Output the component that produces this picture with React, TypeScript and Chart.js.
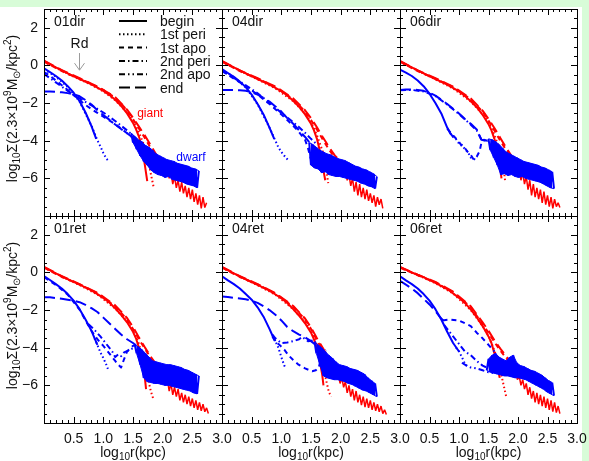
import React, { useEffect, useRef } from "react";
import { Chart, registerables } from "chart.js";
Chart.register(...registerables);

type P = [number, number];

// ---------- shared x grids ----------
const bandX = [1.47, 1.5, 1.53, 1.56, 1.59, 1.62, 1.65, 1.68, 1.71, 1.74, 1.77, 1.8, 1.83, 1.86, 1.89, 1.92, 1.95, 1.98, 2.01, 2.04, 2.07, 2.1, 2.13, 2.16, 2.19, 2.22, 2.25, 2.28, 2.31, 2.34, 2.37, 2.4, 2.43, 2.46, 2.49, 2.52, 2.55, 2.58, 2.61];
const tailX = [1.96, 1.99, 2.02, 2.05, 2.08, 2.11, 2.14, 2.17, 2.2, 2.23, 2.26, 2.29, 2.32, 2.35, 2.38, 2.41, 2.44, 2.47, 2.5, 2.53, 2.56, 2.59, 2.62, 2.65, 2.68, 2.71, 2.74, 2.77];

// ---------- tick labels ----------
const yTickValues = [2, 0, -2, -4, -6];
const xTickValues = [0.5, 1.0, 1.5, 2.0, 2.5, 3.0];
const legendLabels = ["begin", "1st peri", "1st apo", "2nd peri", "2nd apo", "end"];

// ---------- 01dir ----------
const dir01GBegin: P[] = [[0, 0.24], [0.2, -0.1], [0.4, -0.42], [0.6, -0.72], [0.8, -1.0], [1.0, -1.35], [1.1, -1.56], [1.2, -1.82], [1.3, -2.15], [1.4, -2.55], [1.5, -3.05], [1.55, -3.38], [1.6, -3.78], [1.65, -4.35], [1.7, -5.3], [1.74, -6.15]];
const dir01GPeri1: P[] = [[0, 0.22], [0.2, -0.12], [0.4, -0.44], [0.6, -0.74], [0.8, -1.03], [1.0, -1.38], [1.2, -1.85], [1.4, -2.5], [1.5, -2.95], [1.6, -3.55], [1.7, -4.35], [1.75, -4.95], [1.8, -5.75], [1.85, -6.5]];
const dir01GApo1: P[] = [[0, 0.2], [0.2, -0.13], [0.4, -0.45], [0.6, -0.7], [0.8, -0.98], [1.0, -1.3], [1.2, -1.72], [1.35, -2.2], [1.5, -2.85], [1.6, -3.35], [1.7, -3.85], [1.8, -4.4], [1.9, -4.95], [1.97, -5.2]];
const dir01GEnd: P[] = [[0, 0.26], [0.3, -0.25], [0.6, -0.68], [0.9, -1.12], [1.2, -1.68], [1.4, -2.35], [1.5, -2.78], [1.6, -3.25], [1.7, -3.72], [1.8, -4.25], [1.9, -4.78], [2.0, -5.2]];
const dir01Tail = [-5.1, -5.5, -5.3, -5.8, -5.5, -6.0, -5.7, -6.3, -5.9, -6.5, -6.1, -6.7, -6.2, -6.8, -6.4, -7.0, -6.5, -7.1, -6.6, -7.25, -6.8, -7.4, -6.9, -7.6, -7.0, -7.55, -7.3, null];
const dir01DBegin: P[] = [[0, -0.15], [0.1, -0.35], [0.2, -0.56], [0.3, -0.8], [0.4, -1.1], [0.5, -1.45], [0.6, -1.9], [0.7, -2.5], [0.8, -3.22], [0.88, -3.9]];
const dir01DPeri1: P[] = [[0, -0.2], [0.2, -0.6], [0.4, -1.14], [0.6, -1.92], [0.8, -3.2], [0.9, -3.98], [0.95, -4.3], [1.0, -4.65], [1.05, -4.95], [1.1, -5.1]];
const dir01DApo1: P[] = [[0, -0.35], [0.1, -0.55], [0.2, -0.8], [0.3, -1.05], [0.4, -1.3], [0.5, -1.58], [0.6, -1.85], [0.7, -2.1], [0.8, -2.32], [0.9, -2.52], [1.0, -2.72], [1.1, -2.92], [1.2, -3.12], [1.3, -3.36], [1.4, -3.6], [1.5, -3.85], [1.6, -4.1]];
const dir01DPeri2: P[] = [[0, -0.45], [0.2, -0.9], [0.4, -1.35], [0.5, -1.55], [0.6, -1.75], [0.8, -2.12], [1.0, -2.5], [1.2, -2.95], [1.4, -3.45], [1.6, -4.0]];
const dir01DApo2: P[] = [];
const dir01DEnd: P[] = [[0, -1.38], [0.1, -1.38], [0.2, -1.4], [0.3, -1.43], [0.4, -1.47], [0.5, -1.53], [0.6, -1.64], [0.7, -1.84], [0.8, -2.08], [0.9, -2.38], [1.0, -2.64], [1.1, -2.88], [1.2, -3.14], [1.3, -3.38], [1.4, -3.6], [1.5, -3.84], [1.6, -4.08]];
const dir01Band = [-3.6, -4.1, -3.8, -4.45, -3.95, -4.8, -4.05, -5.1, -4.25, -5.3, -4.35, -5.55, -4.5, -5.7, -4.7, -5.8, -4.8, -5.85, -4.9, -5.95, -5.0, -5.9, -5.05, -6.05, -5.1, -6.1, -5.2, -6.15, -5.25, -6.2, -5.3, -6.3, -5.35, -6.35, -5.45, -6.4, -5.5, -6.5, -5.6];

// ---------- 04dir ----------
const dir04GBegin: P[] = [[0, 0.22], [0.2, -0.1], [0.4, -0.42], [0.6, -0.72], [0.8, -1.02], [1.0, -1.37], [1.1, -1.6], [1.2, -1.88], [1.3, -2.2], [1.4, -2.6], [1.5, -3.1], [1.55, -3.45], [1.6, -3.9], [1.65, -4.55], [1.7, -5.4], [1.74, -6.1]];
const dir04GPeri1: P[] = [[0, 0.2], [0.3, -0.28], [0.6, -0.74], [0.9, -1.22], [1.2, -1.9], [1.4, -2.55], [1.5, -3.0], [1.6, -3.7], [1.7, -4.6], [1.75, -5.4], [1.79, -6.25]];
const dir04GApo1: P[] = [[0, 0.2], [0.3, -0.3], [0.6, -0.7], [0.9, -1.15], [1.2, -1.8], [1.4, -2.45], [1.5, -2.9], [1.6, -3.4], [1.7, -3.95], [1.8, -4.45], [1.9, -4.9], [1.95, -5.05]];
const dir04GEnd: P[] = [[0, 0.24], [0.3, -0.26], [0.6, -0.68], [0.9, -1.12], [1.2, -1.75], [1.4, -2.38], [1.5, -2.8], [1.6, -3.28], [1.7, -3.82], [1.8, -4.32], [1.9, -4.78], [2.0, -5.1]];
const dir04Tail = [-5.2, -5.6, -5.4, -5.9, -5.6, -6.1, -5.8, -6.4, -6.0, -6.7, -6.2, -6.9, -6.3, -7.0, -6.5, -7.1, -6.6, -7.2, -6.8, -7.3, -6.9, -7.5, -7.0, -7.4, -7.1, -7.6, null, null];
const dir04DBegin: P[] = [[0, -0.2], [0.1, -0.4], [0.2, -0.6], [0.3, -0.86], [0.4, -1.15], [0.5, -1.55], [0.6, -2.05], [0.7, -2.6], [0.8, -3.3], [0.88, -3.9]];
const dir04DPeri1: P[] = [[0, -0.22], [0.2, -0.62], [0.4, -1.17], [0.6, -2.06], [0.8, -3.3], [0.9, -4.0], [0.95, -4.35], [1.0, -4.6], [1.05, -4.8], [1.12, -5.05]];
const dir04DApo1: P[] = [[0, -0.3], [0.2, -0.7], [0.4, -1.1], [0.6, -1.55], [0.8, -2.05], [1.0, -2.6], [1.1, -2.9], [1.2, -3.2], [1.3, -3.55], [1.4, -3.95], [1.45, -4.4], [1.5, -5.0], [1.55, -5.3]];
const dir04DPeri2: P[] = [[0, -0.28], [0.2, -0.66], [0.4, -1.05], [0.6, -1.48], [0.8, -1.98], [1.0, -2.52], [1.2, -3.02], [1.3, -3.28], [1.4, -3.58], [1.5, -3.9], [1.6, -4.2]];
const dir04DApo2: P[] = [];
const dir04DEnd: P[] = [[0, -1.3], [0.1, -1.3], [0.2, -1.3], [0.3, -1.32], [0.4, -1.35], [0.5, -1.42], [0.6, -1.55], [0.7, -1.72], [0.8, -1.92], [0.9, -2.18], [1.0, -2.45], [1.1, -2.8], [1.2, -3.1], [1.3, -3.45], [1.4, -3.8], [1.5, -4.2], [1.6, -4.5]];
const dir04Band = [-4.1, -5.3, -4.2, -5.45, -4.35, -5.5, -4.5, -5.7, -4.6, -5.65, -4.7, -5.8, -4.75, -5.85, -4.85, -5.9, -4.95, -5.9, -5.0, -5.95, -5.05, -6.0, -5.15, -6.05, -5.25, -6.1, -5.35, -6.15, -5.4, -6.25, -5.5, -6.3, -5.55, -6.4, -5.65, -6.45, -5.75, -6.55, -5.9];

// ---------- 06dir ----------
const dir06GBegin: P[] = [[0, 0.22], [0.2, -0.1], [0.4, -0.42], [0.6, -0.72], [0.8, -1.02], [1.0, -1.38], [1.1, -1.62], [1.2, -1.9], [1.3, -2.22], [1.4, -2.62], [1.5, -3.12], [1.55, -3.45], [1.6, -3.9], [1.65, -4.5], [1.69, -5.2], [1.72, -6.0]];
const dir06GPeri1: P[] = [[0, 0.2], [0.3, -0.28], [0.6, -0.74], [0.9, -1.22], [1.2, -1.92], [1.4, -2.58], [1.5, -3.02], [1.6, -3.7], [1.7, -4.55], [1.75, -5.3], [1.78, -6.1]];
const dir06GApo1: P[] = [[0, 0.2], [0.3, -0.3], [0.6, -0.7], [0.9, -1.15], [1.2, -1.8], [1.4, -2.45], [1.5, -2.92], [1.6, -3.45], [1.7, -4.0], [1.8, -4.5], [1.9, -4.95], [1.95, -5.1]];
const dir06GEnd: P[] = [[0, 0.24], [0.3, -0.26], [0.6, -0.68], [0.9, -1.12], [1.2, -1.76], [1.4, -2.4], [1.5, -2.84], [1.6, -3.32], [1.7, -3.85], [1.8, -4.38], [1.9, -4.85], [2.0, -5.15]];
const dir06Tail = [-5.3, -5.7, -5.5, -6.1, -5.7, -6.3, -5.9, -6.6, -6.1, -6.9, -6.3, -7.0, -6.5, -7.1, -6.6, -7.3, -6.7, -7.4, -6.9, -7.5, -7.0, -7.6, -7.1, -7.5, -7.3, -7.55, null, null];
const dir06DBegin: P[] = [[0, -0.22], [0.1, -0.38], [0.2, -0.56], [0.3, -0.8], [0.4, -1.1], [0.5, -1.5], [0.6, -2.0], [0.7, -2.55], [0.8, -3.3], [0.85, -3.6], [0.9, -3.8]];
const dir06DPeri1: P[] = [[0.85, -3.6], [0.9, -3.8], [0.95, -3.92], [1.0, -4.15], [1.05, -4.22], [1.1, -4.45], [1.15, -4.6], [1.2, -4.9], [1.25, -4.95], [1.3, -5.1]];
const dir06DApo1: P[] = [[0.8, -3.35], [0.9, -3.72], [1.0, -4.05], [1.05, -4.3], [1.1, -4.4], [1.15, -4.6], [1.2, -4.75], [1.25, -5.0], [1.3, -4.85], [1.35, -4.55], [1.38, -4.1], [1.42, -3.95], [1.48, -4.0], [1.55, -3.95], [1.6, -4.1]];
const dir06DPeri2: P[] = [[0, -1.32], [0.2, -1.3], [0.4, -1.38], [0.6, -1.62], [0.8, -2.08], [1.0, -2.58], [1.2, -3.15], [1.3, -3.45], [1.38, -3.95]];
const dir06DApo2: P[] = [];
const dir06DEnd: P[] = [[0, -1.3], [0.1, -1.28], [0.2, -1.27], [0.3, -1.3], [0.4, -1.35], [0.5, -1.45], [0.6, -1.6], [0.7, -1.82], [0.8, -2.05], [0.9, -2.3], [1.0, -2.55], [1.1, -2.85], [1.2, -3.1], [1.3, -3.4], [1.38, -3.95], [1.45, -4.0]];
const dir06Band = [null, -3.9, -4.5, -3.95, -4.9, -4.05, -5.3, -4.2, -5.8, -4.4, -5.75, -4.6, -5.85, -4.7, -5.8, -4.8, -5.9, -4.9, -5.95, -5.0, -5.9, -5.1, -6.0, -5.15, -6.05, -5.2, -6.1, -5.25, -6.15, -5.3, -6.2, -5.4, -6.3, -5.45, -6.4, -5.55, -6.5, -5.65, -6.55];

// ---------- 01ret ----------
const ret01GBegin: P[] = [[0, 0.28], [0.2, -0.05], [0.4, -0.35], [0.6, -0.65], [0.8, -0.95], [1.0, -1.35], [1.1, -1.6], [1.2, -1.9], [1.3, -2.25], [1.4, -2.65], [1.5, -3.15], [1.55, -3.5], [1.6, -4.0], [1.65, -4.7], [1.69, -5.3], [1.72, -6.2]];
const ret01GPeri1: P[] = [[0, 0.26], [0.3, -0.22], [0.6, -0.67], [0.9, -1.17], [1.2, -1.92], [1.4, -2.6], [1.5, -3.05], [1.6, -3.8], [1.7, -4.8], [1.75, -5.6], [1.8, -6.3], [1.84, -6.7]];
const ret01GApo1: P[] = [[0, 0.26], [0.3, -0.24], [0.6, -0.64], [0.9, -1.1], [1.2, -1.8], [1.4, -2.5], [1.5, -3.0], [1.6, -3.55], [1.7, -4.05], [1.8, -4.55], [1.9, -5.0], [1.96, -5.25]];
const ret01GEnd: P[] = [[0, 0.3], [0.3, -0.2], [0.6, -0.62], [0.9, -1.08], [1.2, -1.75], [1.4, -2.42], [1.5, -2.9], [1.6, -3.45], [1.7, -3.98], [1.8, -4.48], [1.9, -4.92], [2.0, -5.2]];
const ret01Tail = [-5.3, -5.8, -5.5, -6.0, -5.7, -6.3, -5.9, -6.5, -6.1, -6.6, -6.2, -6.8, -6.4, -6.9, -6.5, -7.0, -6.6, -7.1, -6.7, -7.2, -6.8, -7.3, -6.9, -7.35, -7.0, -7.4, -7.2, -7.5];
const ret01DBegin: P[] = [[0, -0.2], [0.1, -0.4], [0.2, -0.62], [0.3, -0.85], [0.4, -1.15], [0.5, -1.5], [0.6, -1.95], [0.7, -2.5], [0.8, -3.1], [0.9, -3.85]];
const ret01DPeri1: P[] = [[0.85, -3.5], [0.9, -3.85], [0.95, -4.25], [1.0, -4.55], [1.05, -4.9], [1.08, -5.15]];
const ret01DApo1: P[] = [[0, -0.25], [0.2, -0.66], [0.4, -1.18], [0.6, -1.98], [0.7, -2.55], [0.8, -3.1], [0.9, -3.55], [1.0, -3.9], [1.1, -4.3], [1.2, -4.7], [1.25, -4.9], [1.3, -5.05], [1.35, -4.6], [1.4, -4.2], [1.5, -3.9], [1.6, -3.8]];
const ret01DPeri2: P[] = [[0.75, -2.75], [0.85, -3.05], [0.95, -3.4], [1.05, -3.8], [1.15, -4.2], [1.2, -4.5], [1.25, -4.35], [1.3, -4.45], [1.35, -4.25], [1.45, -4.1], [1.55, -3.95]];
const ret01DApo2: P[] = [];
const ret01DEnd: P[] = [[0, -1.32], [0.1, -1.32], [0.2, -1.36], [0.3, -1.4], [0.4, -1.45], [0.5, -1.5], [0.6, -1.58], [0.7, -1.72], [0.8, -1.9], [0.9, -2.1], [1.0, -2.4], [1.1, -2.7], [1.2, -3.0], [1.3, -3.3], [1.4, -3.55], [1.5, -3.75], [1.6, -4.0]];
const ret01Band = [null, null, -3.85, -4.3, -3.95, -4.9, -4.1, -5.6, -4.3, -5.8, -4.5, -5.85, -4.7, -5.9, -4.75, -5.9, -4.8, -5.95, -4.85, -6.0, -4.9, -6.0, -4.9, -6.05, -4.95, -6.1, -5.0, -6.15, -5.05, -6.2, -5.15, -6.25, -5.2, -6.3, -5.3, -6.4, -5.4, -6.45, -5.5];

// ---------- 04ret ----------
const ret04GBegin: P[] = [[0, 0.28], [0.2, -0.05], [0.4, -0.36], [0.6, -0.66], [0.8, -0.97], [1.0, -1.37], [1.1, -1.62], [1.2, -1.95], [1.3, -2.3], [1.4, -2.7], [1.5, -3.2], [1.55, -3.55], [1.6, -4.05], [1.65, -4.75], [1.69, -5.45], [1.71, -6.0]];
const ret04GPeri1: P[] = [[0, 0.26], [0.3, -0.22], [0.6, -0.68], [0.9, -1.18], [1.2, -1.95], [1.4, -2.62], [1.5, -3.1], [1.6, -3.85], [1.7, -4.85], [1.75, -5.65], [1.8, -6.35], [1.84, -6.6]];
const ret04GApo1: P[] = [[0, 0.26], [0.3, -0.24], [0.6, -0.64], [0.9, -1.12], [1.2, -1.82], [1.4, -2.5], [1.5, -3.0], [1.6, -3.6], [1.7, -4.15], [1.8, -4.7], [1.9, -5.2], [1.95, -5.35]];
const ret04GEnd: P[] = [[0, 0.3], [0.3, -0.2], [0.6, -0.62], [0.9, -1.1], [1.2, -1.78], [1.4, -2.45], [1.5, -2.92], [1.6, -3.5], [1.7, -4.02], [1.8, -4.55], [1.9, -5.05], [2.0, -5.3]];
const ret04Tail = [-5.4, -5.9, -5.6, -6.1, -5.8, -6.4, -6.0, -6.6, -6.2, -6.8, -6.3, -6.9, -6.5, -7.05, -6.6, -7.15, -6.7, -7.2, -6.8, -7.3, -6.9, -7.35, -7.0, -7.4, -7.1, -7.5, -7.3, -7.55];
const ret04DBegin: P[] = [[0, -0.2], [0.1, -0.42], [0.2, -0.62], [0.3, -0.85], [0.4, -1.15], [0.5, -1.45], [0.6, -1.85], [0.7, -2.35], [0.8, -3.0], [0.85, -3.35], [0.9, -3.65]];
const ret04DPeri1: P[] = [[0.85, -3.35], [0.9, -3.65], [0.95, -4.0], [1.0, -4.5], [1.05, -4.95], [1.08, -5.1]];
const ret04DApo1: P[] = [[0.85, -3.4], [0.9, -3.7], [0.96, -3.82], [1.05, -4.1], [1.12, -4.4], [1.2, -4.65], [1.29, -4.9], [1.4, -5.1], [1.52, -5.25], [1.58, -5.2], [1.63, -5.05], [1.67, -4.6], [1.7, -4.3], [1.75, -4.1]];
const ret04DPeri2: P[] = [[0.85, -3.3], [0.9, -3.5], [1.0, -3.75], [1.1, -3.72], [1.2, -3.65], [1.3, -3.55], [1.35, -3.42], [1.45, -3.65], [1.55, -3.6], [1.6, -3.85]];
const ret04DApo2: P[] = [];
const ret04DEnd: P[] = [[0, -1.28], [0.1, -1.3], [0.2, -1.35], [0.3, -1.38], [0.4, -1.42], [0.5, -1.5], [0.6, -1.62], [0.7, -1.8], [0.8, -2.0], [0.9, -2.25], [1.0, -2.55], [1.1, -2.9], [1.2, -3.12], [1.3, -3.3], [1.4, -3.45], [1.5, -3.65], [1.6, -3.9]];
const ret04Band = [null, null, null, -3.7, -4.3, -3.85, -4.9, -4.0, -5.5, -4.2, -5.6, -4.4, -5.65, -4.55, -5.7, -4.75, -5.7, -4.9, -5.75, -4.95, -5.8, -5.0, -5.9, -5.1, -5.95, -5.15, -6.05, -5.2, -6.15, -5.3, -6.25, -5.4, -6.3, -5.6, -6.4, -5.75, -6.5, -5.9, -6.6];

// ---------- 06ret ----------
const ret06GBegin: P[] = [[0, 0.28], [0.2, 0.0], [0.4, -0.25], [0.6, -0.55], [0.8, -0.88], [1.0, -1.35], [1.1, -1.62], [1.2, -1.98], [1.3, -2.38], [1.4, -2.85], [1.5, -3.4], [1.55, -3.75], [1.6, -4.3], [1.65, -5.0], [1.69, -5.6]];
const ret06GPeri1: P[] = [[0, 0.26], [0.3, -0.14], [0.6, -0.57], [0.9, -1.12], [1.2, -2.0], [1.4, -2.85], [1.5, -3.35], [1.6, -4.15], [1.7, -5.2], [1.75, -5.9], [1.8, -6.6]];
const ret06GApo1: P[] = [[0, 0.26], [0.3, -0.15], [0.6, -0.53], [0.9, -1.05], [1.2, -1.85], [1.4, -2.75], [1.5, -3.2], [1.6, -3.7], [1.7, -4.15], [1.8, -4.55], [1.9, -5.0], [1.96, -5.2]];
const ret06GEnd: P[] = [[0, 0.3], [0.3, -0.12], [0.6, -0.5], [0.9, -1.02], [1.2, -1.8], [1.4, -2.65], [1.5, -3.1], [1.6, -3.6], [1.7, -4.05], [1.8, -4.45], [1.9, -4.9], [2.0, -5.15]];
const ret06Tail = [-5.2, -5.7, -5.5, -6.0, -5.7, -6.2, -5.9, -6.5, -6.1, -6.7, -6.3, -6.9, -6.4, -7.0, -6.5, -7.1, -6.6, -7.2, -6.7, -7.3, -6.8, -7.4, -6.9, -7.45, -7.1, -7.5, null, null];
const ret06DBegin: P[] = [[0, -0.2], [0.1, -0.42], [0.2, -0.62], [0.3, -0.85], [0.4, -1.15], [0.5, -1.5], [0.6, -1.95], [0.7, -2.5], [0.8, -3.15], [0.9, -3.75], [1.0, -4.2]];
const ret06DPeri1: P[] = [[0.95, -4.0], [1.0, -4.2], [1.05, -4.5], [1.1, -4.85], [1.15, -5.05]];
const ret06DApo1: P[] = [[0.72, -2.55], [0.85, -2.5], [1.0, -2.55], [1.1, -2.7], [1.2, -2.85], [1.3, -3.2], [1.4, -3.5], [1.5, -3.85], [1.6, -4.2]];
const ret06DPeri2: P[] = [[0.75, -2.8], [0.8, -3.0], [0.9, -3.4], [1.0, -3.8], [1.1, -4.2], [1.2, -4.4], [1.3, -4.7], [1.4, -4.95], [1.5, -5.1]];
const ret06DApo2: P[] = [[1.05, -4.8], [1.1, -4.9], [1.2, -5.05], [1.3, -5.1], [1.4, -5.2], [1.5, -5.3], [1.6, -5.35]];
const ret06DEnd: P[] = [[0, -0.45], [0.1, -0.65], [0.2, -0.85], [0.3, -1.1], [0.4, -1.4], [0.5, -1.7], [0.6, -2.05], [0.7, -2.45], [0.75, -2.6]];
const ret06Band = [-5.2, -4.6, -5.3, -4.4, -5.35, -4.3, -5.4, -4.5, -5.45, -4.6, -5.5, -4.7, -5.5, -4.5, -5.55, -4.4, -5.6, -4.8, -5.6, -4.95, -5.65, -5.0, -5.7, -5.1, -5.8, -5.2, -5.9, -5.25, -6.0, -5.35, -6.1, -5.45, -6.2, -5.6, -6.35, -5.75, -6.45, -5.85, -6.55];

// ---------- layout / style ----------
const W = 589;
const H = 461;
const colX = [44, 222, 400, 577];
const rowY = [9, 216, 423];
const RED = "#ff0000";
const BLUE = "#0000ff";
const GREEN = "#d8fcd8";
const TEXT = "#111";
const FONT = '"Liberation Sans", Arial, Helvetica, sans-serif';
const DASH: Record<string, number[]> = {
  solid: [],
  dotted: [1.5, 2.5],
  dashed: [5, 4],
  dashDot: [6, 3, 1.5, 3],
  dashDotDot: [6, 3, 1.5, 3, 1.5, 3],
  longDash: [11, 5],
};
const legendStyles = ["solid", "dotted", "dashed", "dashDot", "dashDotDot", "longDash"];

const PANELS = [
  { label: "01dir", col: 0, row: 0, g: [dir01GBegin, dir01GPeri1, dir01GApo1, dir01GEnd], tail: dir01Tail, d: [dir01DBegin, dir01DPeri1, dir01DApo1, dir01DPeri2, dir01DApo2, dir01DEnd], band: dir01Band },
  { label: "04dir", col: 1, row: 0, g: [dir04GBegin, dir04GPeri1, dir04GApo1, dir04GEnd], tail: dir04Tail, d: [dir04DBegin, dir04DPeri1, dir04DApo1, dir04DPeri2, dir04DApo2, dir04DEnd], band: dir04Band },
  { label: "06dir", col: 2, row: 0, g: [dir06GBegin, dir06GPeri1, dir06GApo1, dir06GEnd], tail: dir06Tail, d: [dir06DBegin, dir06DPeri1, dir06DApo1, dir06DPeri2, dir06DApo2, dir06DEnd], band: dir06Band },
  { label: "01ret", col: 0, row: 1, g: [ret01GBegin, ret01GPeri1, ret01GApo1, ret01GEnd], tail: ret01Tail, d: [ret01DBegin, ret01DPeri1, ret01DApo1, ret01DPeri2, ret01DApo2, ret01DEnd], band: ret01Band },
  { label: "04ret", col: 1, row: 1, g: [ret04GBegin, ret04GPeri1, ret04GApo1, ret04GEnd], tail: ret04Tail, d: [ret04DBegin, ret04DPeri1, ret04DApo1, ret04DPeri2, ret04DApo2, ret04DEnd], band: ret04Band },
  { label: "06ret", col: 2, row: 1, g: [ret06GBegin, ret06GPeri1, ret06GApo1, ret06GEnd], tail: ret06Tail, d: [ret06DBegin, ret06DPeri1, ret06DApo1, ret06DPeri2, ret06DApo2, ret06DEnd], band: ret06Band },
];

const zipXY = (xs: number[], ys: (number | null)[]) =>
  xs.map((x, i) => ({ x, y: ys[i] })).filter((p) => p.y !== null) as { x: number; y: number }[];

// split a zig-zag band into its upper and lower envelope points
function splitEnvelope(xs: number[], ys: (number | null)[]) {
  const pts = zipXY(xs, ys);
  const top: { x: number; y: number }[] = [];
  const bot: { x: number; y: number }[] = [];
  pts.forEach((pt, i) => {
    const ref = i > 0 ? pts[i - 1].y : pts[i + 1].y;
    (pt.y > ref ? top : bot).push(pt);
  });
  return { top, bot };
}

const line = (data: any[], color: string, dash: number[], width = 2, join = "round") => ({
  data,
  borderColor: color,
  backgroundColor: color,
  borderWidth: width,
  borderDash: dash,
  pointRadius: 0,
  fill: false,
  tension: 0,
  borderJoinStyle: join,
  borderCapStyle: "butt",
  clip: 0,
});

type Seg = [string, number, number];
function richWidth(ctx: CanvasRenderingContext2D, segs: Seg[]) {
  let w = 0;
  for (const [t, s] of segs) {
    ctx.font = `${s}px ${FONT}`;
    w += ctx.measureText(t).width;
  }
  return w;
}
function drawRich(ctx: CanvasRenderingContext2D, segs: Seg[], cx: number, y: number) {
  let x = cx - richWidth(ctx, segs) / 2;
  for (const [t, s, dy] of segs) {
    ctx.font = `${s}px ${FONT}`;
    ctx.fillText(t, x, y + dy);
    x += ctx.measureText(t).width;
  }
}
const xTitle: Seg[] = [["log", 14, 0], ["10", 10, 3], ["r(kpc)", 14, 0]];
const yTitle: Seg[] = [["log", 14, 0], ["10", 10, 3], ["Σ(2.3×10", 14, 0], ["9", 10, -6], ["M", 14, 0], ["⊙", 10, 3], ["/kpc", 14, 0], ["2", 10, -6], [")", 14, 0]];

const fmt = (v: number) => (v < 0 ? "\u2212" + String(-v) : String(v));

function makePlugin(p: (typeof PANELS)[number], idx: number) {
  return {
    id: "panelDeco" + idx,
    afterDraw(chart: any) {
      const ctx: CanvasRenderingContext2D = chart.ctx;
      const a = chart.chartArea;
      const xs = chart.scales.x;
      const ys = chart.scales.y;
      const L = Math.round(a.left), R = Math.round(a.right), T = Math.round(a.top), B = Math.round(a.bottom);
      ctx.save();
      ctx.setLineDash([]);
      ctx.strokeStyle = "#000";
      ctx.lineWidth = 1;
      ctx.beginPath();
      for (let i = 1; i < 30; i++) {
        const px = Math.round(xs.getPixelForValue(i / 10)) + 0.5;
        const len = i % 5 === 0 ? 6 : 3;
        ctx.moveTo(px, B); ctx.lineTo(px, B - len);
        ctx.moveTo(px, T); ctx.lineTo(px, T + len);
      }
      for (let i = -15; i < 6; i++) {
        const py = Math.round(ys.getPixelForValue(i / 2)) + 0.5;
        const len = i % 4 === 0 ? 6 : 3;
        ctx.moveTo(L, py); ctx.lineTo(L + len, py);
        ctx.moveTo(R, py); ctx.lineTo(R - len, py);
      }
      ctx.stroke();
      ctx.strokeRect(L + 0.5, T + 0.5, R - L, B - T);

      ctx.fillStyle = TEXT;
      ctx.font = `14px ${FONT}`;
      if (p.col === 0) {
        ctx.textAlign = "right";
        ctx.textBaseline = "middle";
        for (const v of yTickValues) ctx.fillText(fmt(v), L - 6, ys.getPixelForValue(v));
        ctx.save();
        ctx.translate(17, (T + B) / 2 - 4);
        ctx.rotate(-Math.PI / 2);
        ctx.textAlign = "left";
        ctx.textBaseline = "alphabetic";
        drawRich(ctx, yTitle, 0, 0);
        ctx.restore();
      }
      if (p.row === 1) {
        ctx.textAlign = "center";
        ctx.textBaseline = "middle";
        ctx.font = `14px ${FONT}`;
        for (const v of xTickValues) ctx.fillText(v.toFixed(1), xs.getPixelForValue(v), B + 16);
        ctx.textAlign = "left";
        ctx.textBaseline = "alphabetic";
        drawRich(ctx, xTitle, (L + R) / 2, H - 4);
      }
      ctx.textAlign = "left";
      ctx.textBaseline = "alphabetic";
      ctx.font = `14px ${FONT}`;
      ctx.fillText(p.label, L + 10, T + 17);

      if (idx === 0) {
        for (let k = 0; k < legendLabels.length; k++) {
          const by = T + 17 + k * 13.3;
          ctx.beginPath();
          ctx.setLineDash(DASH[legendStyles[k]]);
          ctx.lineWidth = 2;
          ctx.strokeStyle = "#000";
          ctx.moveTo(L + 75, by - 5);
          ctx.lineTo(L + 103, by - 5);
          ctx.stroke();
          ctx.setLineDash([]);
          ctx.font = `14px ${FONT}`;
          ctx.fillText(legendLabels[k], L + 116, by);
        }
        const ax = Math.round(xs.getPixelForValue(0.59)) + 0.5;
        const y0 = ys.getPixelForValue(0.66);
        const y1 = ys.getPixelForValue(-0.25);
        ctx.strokeStyle = "#9a9a9a";
        ctx.lineWidth = 1;
        ctx.beginPath();
        ctx.moveTo(ax, y0); ctx.lineTo(ax, y1);
        ctx.moveTo(ax - 5, y1 - 7); ctx.lineTo(ax, y1); ctx.lineTo(ax + 5, y1 - 7);
        ctx.stroke();
        ctx.fillStyle = TEXT;
        ctx.textAlign = "center";
        ctx.fillText("Rd", ax, ys.getPixelForValue(0.95));
        ctx.textAlign = "left";
        ctx.font = `12px ${FONT}`;
        ctx.fillStyle = RED;
        ctx.fillText("giant", xs.getPixelForValue(1.57), ys.getPixelForValue(-2.75));
        ctx.fillStyle = BLUE;
        ctx.fillText("dwarf", xs.getPixelForValue(2.23), ys.getPixelForValue(-5.1));
      }
      ctx.restore();
    },
  };
}

function buildConfig(p: (typeof PANELS)[number], idx: number): any {
  const L = colX[p.col], R = colX[p.col + 1], T = rowY[p.row], B = rowY[p.row + 1];
  const dStyles = ["solid", "dotted", "dashed", "dashDot", "dashDotDot", "longDash"];
  const gStyles = ["solid", "dotted", "dashed", "longDash"];
  const datasets: any[] = [];
  const env = splitEnvelope(bandX, p.band);
  datasets.push({ ...line(env.top, BLUE, [], 1, "round"), fill: "+1", backgroundColor: BLUE });
  datasets.push(line(env.bot, BLUE, [], 1, "round"));
  datasets.push(line(zipXY(bandX, p.band), BLUE, [], 2, "bevel"));
  p.d.forEach((pts, k) => {
    if (pts.length) datasets.push(line(pts.map(([x, y]) => ({ x, y })), BLUE, DASH[dStyles[k]], 2));
  });
  datasets.push(line(zipXY(tailX, p.tail), RED, [], 1.5, "bevel"));
  for (let k = p.g.length - 1; k >= 0; k--) {
    datasets.push(line(p.g[k].map(([x, y]) => ({ x, y })), RED, DASH[gStyles[k]], 2));
  }
  return {
    type: "line",
    data: { datasets },
    options: {
      responsive: false,
      maintainAspectRatio: false,
      animation: false,
      devicePixelRatio: 1,
      events: [],
      layout: { padding: { left: L, top: T, right: W - R, bottom: H - B }, autoPadding: false },
      scales: {
        x: { type: "linear", min: 0, max: 3, display: false },
        y: { type: "linear", min: -8, max: 3, display: false },
      },
      plugins: { legend: { display: false }, title: { display: false }, tooltip: { enabled: false }, filler: { propagate: false } },
    },
    plugins: [makePlugin(p, idx)],
  };
}

export default function App() {
  const refs = useRef<(HTMLCanvasElement | null)[]>([]);
  useEffect(() => {
    const charts = PANELS.map((p, i) => new Chart(refs.current[i] as HTMLCanvasElement, buildConfig(p, i)));
    return () => charts.forEach((c) => c.destroy());
  }, []);
  return (
    <div style={{ position: "fixed", left: 0, top: 0, width: W, height: H, background: GREEN, overflow: "hidden" }}>
      <div style={{ position: "absolute", left: 0, top: 7, width: 582, height: H - 7, background: "#fff" }} />
      {PANELS.map((p, i) => (
        <canvas
          key={p.label}
          ref={(el) => {
            refs.current[i] = el;
          }}
          width={W}
          height={H}
          style={{ position: "absolute", left: 0, top: 0, width: W, height: H }}
        />
      ))}
    </div>
  );
}
